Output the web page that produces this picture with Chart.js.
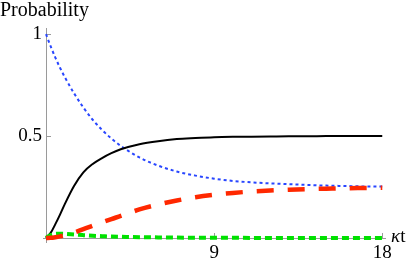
<!DOCTYPE html>
<html>
<head>
<meta charset="utf-8">
<script src="https://cdn.jsdelivr.net/npm/chart.js@4/dist/chart.umd.min.js"></script>
<style>
  html, body { margin: 0; padding: 0; background: #ffffff; }
  #wrap { width: 415px; height: 258px; position: relative; overflow: hidden; }
  #c { position: absolute; left: 0; top: 0; }
  .lbl { position: absolute; font-family: 'Liberation Serif', serif; color: #000; line-height: 1; white-space: nowrap; }
</style>
</head>
<body>
<div id="wrap"><canvas id="c" width="415" height="258"></canvas></div>
<script>
// ---- data ----
const tValues = [0, 0.25, 0.5, 0.75, 1, 1.5, 2, 2.5, 3, 3.5, 4, 5, 6, 7, 8, 9, 10, 11, 12, 13, 14, 15, 16, 17, 18];
const blueSeries  = [1, 0.94, 0.885, 0.835, 0.79, 0.71, 0.64, 0.58, 0.53, 0.488, 0.452, 0.395, 0.355, 0.326, 0.306, 0.291, 0.28, 0.273, 0.268, 0.264, 0.26, 0.257, 0.255, 0.253, 0.252];
const blackSeries = [0, 0.025, 0.068, 0.115, 0.165, 0.255, 0.322, 0.363, 0.392, 0.416, 0.435, 0.46, 0.475, 0.485, 0.49, 0.494, 0.496, 0.497, 0.498, 0.499, 0.499, 0.5, 0.5, 0.5, 0.5];
const redSeries   = [0, 0.001, 0.004, 0.008, 0.013, 0.027, 0.043, 0.06, 0.077, 0.093, 0.108, 0.14, 0.164, 0.184, 0.2, 0.212, 0.221, 0.228, 0.233, 0.237, 0.24, 0.242, 0.244, 0.245, 0.246];
const greenSeries = [0, 0.014, 0.02, 0.021, 0.02, 0.017, 0.014, 0.011, 0.009, 0.007, 0.006, 0.004, 0.003, 0.002, 0.0015, 0.001, 0.001, 0.0005, 0.0005, 0, 0, 0, 0, 0, 0];
const xTickValues = [9, 18];
const xTickLabels = ["9", "18"];
const yTickValues = [0.5, 1];
const yTickLabels = ["0.5", "1"];
const yAxisTitle = "Probability";
const xAxisTitle = ["κ", "t"];

function pts(arr) { return tValues.map((t, i) => ({ x: t, y: arr[i] })); }

const AXIS_COLOR = "#9a9a9a";

const axesPlugin = {
  id: "mmaAxes",
  beforeDatasetsDraw(chart) {
    const ctx = chart.ctx;
    const xs = chart.scales.x, ys = chart.scales.y;
    const x0 = xs.getPixelForValue(0), y0 = ys.getPixelForValue(0);
    ctx.save();
    ctx.strokeStyle = AXIS_COLOR;
    ctx.lineWidth = 1;
    ctx.beginPath();
    ctx.moveTo(Math.round(x0) + 0.5, ys.top);
    ctx.lineTo(Math.round(x0) + 0.5, y0 + 5);
    ctx.moveTo(x0 - 3, Math.round(y0) + 0.5);
    ctx.lineTo(xs.right, Math.round(y0) + 0.5);
    xTickValues.forEach(v => {
      const px = Math.round(xs.getPixelForValue(v)) + 0.5;
      ctx.moveTo(px, y0); ctx.lineTo(px, y0 - 5);
    });
    yTickValues.forEach(v => {
      const py = Math.round(ys.getPixelForValue(v)) + 0.5;
      ctx.moveTo(x0, py); ctx.lineTo(x0 + 5, py);
    });
    ctx.stroke();
    ctx.restore();
  }
};

const chart = new Chart(document.getElementById("c"), {
  type: "line",
  data: {
    datasets: [
      { label: "red",   data: pts(redSeries),   borderColor: "rgb(255,40,0)", borderWidth: 4.5, borderDash: [17, 14], order: 0 },
      { label: "green", data: pts(greenSeries), borderColor: "rgb(0,225,0)",  borderWidth: 4,   borderDash: [7, 4],   order: 1 },
      { label: "black", data: pts(blackSeries), borderColor: "#000000",       borderWidth: 2,                          order: 2 },
      { label: "blue",  data: pts(blueSeries),  borderColor: "rgb(40,70,255)", borderWidth: 2,  borderDash: [3, 3],   order: 3 }
    ].map(d => Object.assign({ pointRadius: 0, fill: false, cubicInterpolationMode: "monotone", clip: false, borderCapStyle: "butt" }, d))
  },
  options: {
    responsive: false,
    animation: false,
    events: [],
    layout: { padding: { left: 46, right: 29, top: 28, bottom: 20 } },
    plugins: { legend: { display: false }, tooltip: { enabled: false } },
    scales: {
      x: { type: "linear", min: 0, max: 18.2, display: false },
      y: { type: "linear", min: 0, max: 1.03, display: false }
    }
  },
  plugins: [axesPlugin]
});

// ---- text labels as real DOM text, placed through the chart's scales ----
(function placeLabels() {
  const wrap = document.getElementById("wrap");
  const xs = chart.scales.x, ys = chart.scales.y;
  const x0 = xs.getPixelForValue(0), y0 = ys.getPixelForValue(0);
  function add(text, size, css) {
    const d = document.createElement("div");
    d.className = "lbl";
    d.style.fontSize = size + "px";
    Object.assign(d.style, css);
    d.innerHTML = text;
    wrap.appendChild(d);
    return d;
  }
  yTickValues.forEach((v, i) => {
    add(yTickLabels[i], 19, { right: (415 - (x0 - 4)) + "px", top: (ys.getPixelForValue(v) - 2) + "px", transform: "translateY(-50%)" });
  });
  xTickValues.forEach((v, i) => {
    add(xTickLabels[i], 19, { left: xs.getPixelForValue(v) + "px", top: (y0 + 4) + "px", transform: "translateX(-50%)" });
  });
  add(yAxisTitle, 20, { left: "0px", top: "-1px" });
  add("<i>" + xAxisTitle[0] + "</i>" + xAxisTitle[1], 19, { left: (xs.right + 5) + "px", top: (y0 - 12) + "px" });
})();
</script>
</body>
</html>
